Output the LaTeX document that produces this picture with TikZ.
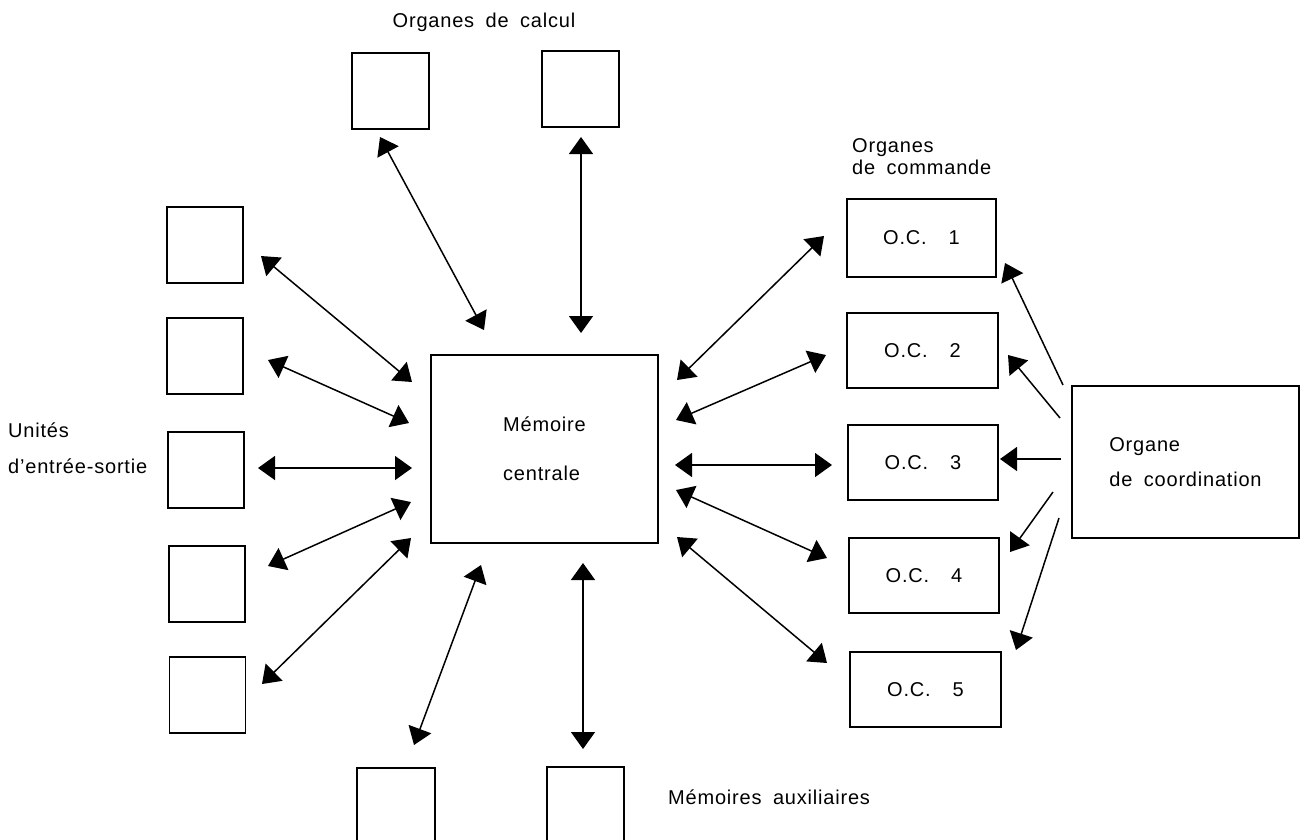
\documentclass[tikz,border=0pt]{standalone}
\usepackage{fontspec}
\setmainfont{Liberation Sans}[LetterSpace=4,WordSpace=1.8]
\usetikzlibrary{arrows.meta}
\begin{document}
\begin{tikzpicture}[x=1pt,y=-1pt,
  txt/.style={font=\fontsize{20}{24}\selectfont, inner sep=0pt},
  unit/.style={draw, line width=1.6pt, inner sep=0pt, txt},
  link/.style={line width=1.5pt,
    {Triangle[length=17pt,width=24pt]}-{Triangle[length=17pt,width=24pt]}},
  feed/.style={line width=1.5pt, -{Triangle[length=17pt,width=24pt]}}]
\useasboundingbox (0,0) rectangle (1300,839);

% computing units
\node[unit, minimum width=77pt, minimum height=76pt] (calc1) at (390.5,91) {};
\node[unit, minimum width=77pt, minimum height=76pt] (calc2) at (580.5,89) {};
\node[txt] (calclbl) at (484,22) {Organes de calcul};

% input/output units
\node[unit, minimum width=76pt, minimum height=76pt] (io1) at (205,245) {};
\node[unit, minimum width=76pt, minimum height=76pt] (io2) at (205,356) {};
\node[unit, minimum width=76pt, minimum height=76pt] (io3) at (206,470) {};
\node[unit, minimum width=76pt, minimum height=76pt] (io4) at (207,584) {};
\node[unit, minimum width=76pt, minimum height=76pt] (io5) at (207.5,695) {};
\node[txt, anchor=west, align=left] (iolbl) at (8,448) {Unités\\[12pt]d’entrée-sortie};

% central memory
\node[unit, minimum width=227pt, minimum height=188pt, align=left] (mem) at (544.5,449)
  {Mémoire\\[25pt]centrale};

% control units
\node[unit, minimum width=149pt, minimum height=78pt] (oc1) at (921.5,238) {O.C.\hspace{22pt}1};
\node[unit, minimum width=151pt, minimum height=75pt] (oc2) at (922.5,350.5) {O.C.\hspace{22pt}2};
\node[unit, minimum width=150pt, minimum height=75pt] (oc3) at (923,462.5) {O.C.\hspace{22pt}3};
\node[unit, minimum width=150pt, minimum height=75pt] (oc4) at (924,575.5) {O.C.\hspace{22pt}4};
\node[unit, minimum width=151pt, minimum height=75pt] (oc5) at (925.5,689.5) {O.C.\hspace{22pt}5};
\node[txt, anchor=west, align=left, font=\fontsize{20}{22}\selectfont] (oclbl) at (852,157)
  {Organes\\de commande};

% coordination unit
\node[unit, minimum width=227pt, minimum height=152pt, align=left] (coord) at (1185.5,462)
  {Organe\\[11pt]de coordination};

% auxiliary memories
\node[unit, minimum width=78pt, minimum height=102pt] (aux1) at (396,819) {};
\node[unit, minimum width=77pt, minimum height=103pt] (aux2) at (585.5,818.5) {};
\node[txt, anchor=west] (auxlbl) at (668,797) {Mémoires auxiliaires};

% arrow end points
\coordinate (t1a) at (380,137);  \coordinate (t1b) at (484,330);
\coordinate (t2a) at (581,137);  \coordinate (t2b) at (581,333);
\coordinate (l1a) at (261,256);  \coordinate (l1b) at (412,382);
\coordinate (l2a) at (268,360);  \coordinate (l2b) at (409,423);
\coordinate (l3a) at (258,468);  \coordinate (l3b) at (412,468);
\coordinate (l4a) at (268,566);  \coordinate (l4b) at (411,502);
\coordinate (l5a) at (262,684);  \coordinate (l5b) at (411,538);
\coordinate (r1a) at (677,380);  \coordinate (r1b) at (824,236);
\coordinate (r2a) at (676,420);  \coordinate (r2b) at (826,355);
\coordinate (r3a) at (675,465);  \coordinate (r3b) at (832,465);
\coordinate (r4a) at (676,490);  \coordinate (r4b) at (827,558);
\coordinate (r5a) at (677,537);  \coordinate (r5b) at (827,663);
\coordinate (b1a) at (481,565);  \coordinate (b1b) at (414,745);
\coordinate (b2a) at (583,563);  \coordinate (b2b) at (583,749);
\coordinate (c1a) at (1063,385); \coordinate (c1b) at (1005,263);
\coordinate (c2a) at (1060,418); \coordinate (c2b) at (1008,355);
\coordinate (c3a) at (1061,459); \coordinate (c3b) at (1000,459);
\coordinate (c4a) at (1053,492); \coordinate (c4b) at (1010,552);
\coordinate (c5a) at (1059,518); \coordinate (c5b) at (1016,650);

% two-way links with the central memory
\foreach \k in {t1,t2,l1,l2,l3,l4,l5,r1,r2,r3,r4,r5,b1,b2}
  \draw[link] (\k a) -- (\k b);

% coordination commands
\foreach \k in {c1,c2,c3,c4,c5}
  \draw[feed] (\k a) -- (\k b);
\end{tikzpicture}
\end{document}
